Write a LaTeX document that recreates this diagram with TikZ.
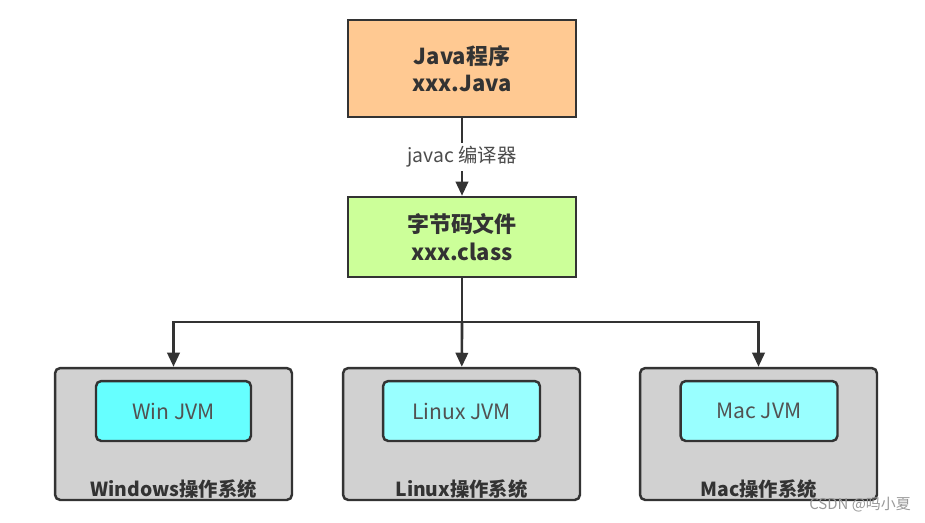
\documentclass[tikz,border=0pt]{standalone}
\usepackage{fontspec}
\setmainfont{Noto Sans CJK SC}
\usepackage{xcolor}
\usetikzlibrary{positioning,arrows.meta}

\definecolor{srcfill}{HTML}{FFC992}
\definecolor{classfill}{HTML}{CCFF99}
\definecolor{osfill}{HTML}{D1D1D1}
\definecolor{winjvm}{HTML}{66FFFF}
\definecolor{jvmfill}{HTML}{99FFFF}
\definecolor{edge}{HTML}{333333}

\begin{document}
\begin{tikzpicture}[
    x=0.02cm,y=-0.02cm,
    font=\fontsize{12.5}{15}\selectfont,
    box/.style={draw=edge,line width=1.4pt,align=center,inner sep=3pt,
      text=edge},
    source/.style={box,fill=srcfill,minimum width=4.56cm,minimum height=1.94cm,
      font=\fontsize{12.5}{15.5}\selectfont\bfseries},
    bytecode/.style={box,fill=classfill,minimum width=4.56cm,minimum height=1.6cm,
      font=\fontsize{12.5}{15.5}\selectfont\bfseries},
    osbox/.style={box,fill=osfill,rounded corners=3pt,minimum width=4.74cm,
      minimum height=2.64cm},
    jvm/.style={box,fill=jvmfill,rounded corners=3pt,minimum width=3.14cm,
      minimum height=1.2cm,font=\fontsize{12}{14}\selectfont,text=edge!85},
    oslabel/.style={text=edge,font=\fontsize{11}{13}\selectfont\bfseries},
    flow/.style={-{Triangle[length=8pt,width=7pt]},line width=1.5pt,draw=edge}
]
\useasboundingbox (0,0) rectangle (925,522);

\node[source]   (java)  at (462,68.5) {Java程序\\xxx.Java};
\node[bytecode] (class) at (462,237)  {字节码文件\\xxx.class};

\draw[flow] (java) -- node[fill=white,inner sep=2pt,text=black!70,
  font=\fontsize{11}{13}\selectfont] {javac 编译器} (class);

% three operating systems
\node[osbox] (winos)   at (173.5,434) {};
\node[osbox] (linuxos) at (461.5,434) {};
\node[osbox] (macos)   at (758.5,434) {};

\node[jvm,fill=winjvm,minimum width=3.1cm] (winjvm) at (173.5,411) {Win JVM};
\node[jvm] (linuxjvm) at (461.5,411) {Linux JVM};
\node[jvm] (macjvm)   at (759,411)   {Mac JVM};

\node[oslabel] (winlabel)   at (173.5,489) {Windows操作系统};
\node[oslabel] (linuxlabel) at (461.5,489) {Linux操作系统};
\node[oslabel] (maclabel)   at (758.5,489) {Mac操作系统};

\coordinate (split) at (462,322);
\draw[line width=1.5pt,draw=edge] (class) -- (split);
\draw[flow] (split) -| (winos);
\draw[flow] (split) -- (linuxos);
\draw[flow] (split) -| (macos);

\node[text=black!40,font=\fontsize{8.5}{10}\selectfont] (mark) at (860,505)
  {CSDN @吗小夏};
\end{tikzpicture}
\end{document}
